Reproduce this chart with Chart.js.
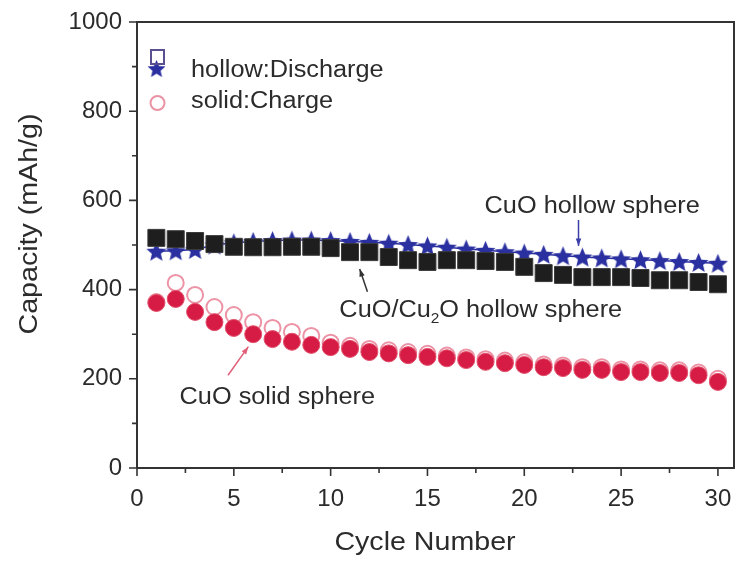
<!DOCTYPE html>
<html lang="en">
<head>
    <meta charset="UTF-8">
    <title>Capacity vs Cycle Number</title>
    <script src="https://cdn.jsdelivr.net/npm/chart.js"></script>
    <style>
        * { margin: 0; padding: 0; box-sizing: border-box; }
        body { background: #fff; width: 736px; height: 561px; overflow: hidden; }
        .wrap { position: relative; width: 736px; height: 561px; }
    </style>
</head>
<body>
    <div class="wrap"><canvas id="capChart"></canvas></div>

    <script>
        // cycle number (x) and capacity values in mAh/g
        const cycles = [1, 2, 3, 4, 5, 6, 7, 8, 9, 10, 11, 12, 13, 14, 15,
                        16, 17, 18, 19, 20, 21, 22, 23, 24, 25, 26, 27, 28, 29, 30];
        const cu2oHollowDischarge = [516, 513, 509, 502, 496, 495, 495, 496, 496, 493, 484, 484, 473, 466, 462,
                                     466, 466, 464, 462, 451, 437, 433, 428, 428, 428, 426, 421, 421, 417, 412];
        const cuoHollowDischarge = [486, 487, 490, 500, 505, 508, 510, 511, 511, 510, 508, 506, 504, 501, 498,
                                    495, 491, 488, 485, 482, 479, 476, 473, 471, 469, 467, 465, 463, 461, 459];
        const cuoSolidDischarge = [370, 379, 350, 327, 314, 300, 289, 283, 276, 271, 267, 260, 257, 253, 249,
                                   246, 242, 238, 235, 231, 226, 224, 220, 220, 215, 215, 213, 213, 208, 193];
        const cuoSolidCharge = [372, 415, 388, 361, 343, 327, 314, 305, 296, 281, 274, 267, 264, 260, 256,
                                252, 248, 244, 241, 237, 232, 230, 226, 226, 221, 221, 219, 219, 214, 200];
        const xTicks = [0, 5, 10, 15, 20, 25, 30];
        const yTicks = [0, 200, 400, 600, 800, 1000];

        const FONT = '"Liberation Sans", Arial, sans-serif';
        const INK = '#2b2b2b';

        function points(ys) {
            return cycles.map((c, i) => ({ x: c, y: ys[i] }));
        }

        // filled five-point star used as point style
        function starImage(size, color) {
            const c = document.createElement('canvas');
            c.width = c.height = size;
            const g = c.getContext('2d');
            const R = size / 2, r = R * 0.45;
            g.beginPath();
            for (let i = 0; i < 10; i++) {
                const a = -Math.PI / 2 + i * Math.PI / 5;
                const rad = i % 2 ? r : R;
                g.lineTo(R + rad * Math.cos(a), R + 1 + rad * Math.sin(a));
            }
            g.closePath();
            g.fillStyle = color;
            g.fill();
            return c;
        }

        const STAR_BLUE = '#2b30a0';
        const star = starImage(21, STAR_BLUE);

        // no extra room for edge labels, the plot box fills the canvas
        function noEdgePadding(s) {
            s.paddingLeft = 0; s.paddingRight = 0;
            s.paddingTop = 0; s.paddingBottom = 0;
        }

        // the scanned figure's lettering is a little wider than Arial
        function wideText(ctx, str, x, y, size) {
            ctx.save();
            ctx.font = size + 'px ' + FONT;
            ctx.translate(x, y);
            ctx.scale(1.1, 1);
            ctx.fillText(str, 0, 0);
            const w = ctx.measureText(str).width * 1.1;
            ctx.restore();
            return w;
        }

        // frame, ticks, axis titles, legend and annotations
        const decor = {
            id: 'decor',
            afterDraw(chart) {
                const { ctx, chartArea: a, scales: { x, y } } = chart;
                ctx.save();
                ctx.strokeStyle = '#333';
                ctx.lineWidth = 2;
                ctx.strokeRect(a.left, a.top, a.right - a.left, a.bottom - a.top);

                ctx.lineWidth = 1.6;
                ctx.beginPath();
                xTicks.forEach(v => {
                    const px = x.getPixelForValue(v);
                    ctx.moveTo(px, a.bottom); ctx.lineTo(px, a.bottom + 8);
                    if (v < 30) {
                        const mx = x.getPixelForValue(v + 2.5);
                        ctx.moveTo(mx, a.bottom); ctx.lineTo(mx, a.bottom + 5);
                    }
                });
                yTicks.forEach(v => {
                    const py = y.getPixelForValue(v);
                    ctx.moveTo(a.left, py); ctx.lineTo(a.left - 8, py);
                    if (v < 1000) {
                        const my = y.getPixelForValue(v + 100);
                        ctx.moveTo(a.left, my); ctx.lineTo(a.left - 5, my);
                    }
                });
                ctx.stroke();

                // axis titles
                ctx.fillStyle = INK;
                ctx.textAlign = 'center';
                ctx.textBaseline = 'middle';
                wideText(ctx, 'Cycle Number', 425, 543, 26);
                ctx.save();
                ctx.translate(30, 224);
                ctx.rotate(-Math.PI / 2);
                wideText(ctx, 'Capacity (mAh/g)', 0, 0, 26);
                ctx.restore();

                // legend
                ctx.drawImage(star, 147, 59, 19, 19);
                ctx.strokeStyle = '#5a5090';
                ctx.lineWidth = 2;
                ctx.strokeRect(151, 50, 13, 14);
                ctx.strokeStyle = '#ea93a4';
                ctx.beginPath();
                ctx.arc(157.5, 103, 7, 0, Math.PI * 2);
                ctx.stroke();
                ctx.fillStyle = INK;
                ctx.textAlign = 'left';
                wideText(ctx, 'hollow:Discharge', 191, 71, 23);
                wideText(ctx, 'solid:Charge', 191, 102, 23);

                // annotations
                function arrow(x1, y1, x2, y2, color) {
                    const p1 = [x.getPixelForValue(x1), y.getPixelForValue(y1)];
                    const p2 = [x.getPixelForValue(x2), y.getPixelForValue(y2)];
                    const ang = Math.atan2(p2[1] - p1[1], p2[0] - p1[0]);
                    ctx.strokeStyle = color;
                    ctx.fillStyle = color;
                    ctx.lineWidth = 1.5;
                    ctx.beginPath();
                    ctx.moveTo(p1[0], p1[1]);
                    ctx.lineTo(p2[0], p2[1]);
                    ctx.stroke();
                    ctx.beginPath();
                    ctx.moveTo(p2[0], p2[1]);
                    ctx.lineTo(p2[0] - 8 * Math.cos(ang - 0.35), p2[1] - 8 * Math.sin(ang - 0.35));
                    ctx.lineTo(p2[0] - 8 * Math.cos(ang + 0.35), p2[1] - 8 * Math.sin(ang + 0.35));
                    ctx.closePath();
                    ctx.fill();
                }
                arrow(22.8, 556, 22.8, 498, '#3a3fa8');
                arrow(11.9, 395, 11.5, 446, '#333');
                arrow(4.7, 208, 5.75, 272, '#e0607a');

                ctx.fillStyle = INK;
                ctx.textAlign = 'left';
                wideText(ctx, 'CuO hollow sphere', x.getPixelForValue(17.95), y.getPixelForValue(585), 23);
                let tx = x.getPixelForValue(10.45);
                const ty = y.getPixelForValue(352);
                tx += wideText(ctx, 'CuO/Cu', tx, ty, 23);
                tx += wideText(ctx, '2', tx, ty + 8, 14);
                wideText(ctx, 'O hollow sphere', tx, ty, 23);
                wideText(ctx, 'CuO solid sphere', x.getPixelForValue(2.2), y.getPixelForValue(157), 23);
                ctx.restore();
            }
        };

        new Chart(document.getElementById('capChart'), {
            type: 'scatter',
            data: {
                datasets: [
                    {
                        label: 'CuO/Cu2O hollow sphere',
                        data: points(cu2oHollowDischarge),
                        pointStyle: 'rect',
                        pointRadius: 12,
                        backgroundColor: '#1e1e1e',
                        borderColor: '#3a3a3a',
                        borderWidth: 1,
                        order: 1
                    },
                    {
                        label: 'CuO hollow sphere',
                        data: points(cuoHollowDischarge),
                        pointStyle: star,
                        showLine: true,
                        borderColor: STAR_BLUE,
                        borderWidth: 1.5,
                        order: 2
                    },
                    {
                        label: 'CuO solid sphere discharge',
                        data: points(cuoSolidDischarge),
                        pointStyle: 'circle',
                        pointRadius: 8.5,
                        backgroundColor: '#d61c45',
                        borderColor: '#e2506c',
                        borderWidth: 1,
                        order: 3
                    },
                    {
                        label: 'CuO solid sphere charge',
                        data: points(cuoSolidCharge),
                        pointStyle: 'circle',
                        pointRadius: 8,
                        backgroundColor: '#ffffff',
                        borderColor: '#ec93a5',
                        borderWidth: 2,
                        order: 4
                    }
                ]
            },
            options: {
                responsive: true,
                maintainAspectRatio: false,
                animation: false,
                events: [],
                layout: { autoPadding: false, padding: { top: 22, right: 2, left: 0, bottom: 0 } },
                plugins: {
                    legend: { display: false },
                    tooltip: { enabled: false }
                },
                scales: {
                    x: {
                        type: 'linear',
                        min: 0,
                        max: 30.83,
                        afterBuildTicks: s => { s.ticks = xTicks.map(v => ({ value: v })); },
                        afterFit: s => { s.height = 93; noEdgePadding(s); },
                        grid: { display: false, drawTicks: false },
                        border: { display: false },
                        ticks: {
                            font: { family: FONT, size: 24 },
                            color: INK,
                            padding: 17,
                            maxRotation: 0,
                            callback: v => String(v)
                        }
                    },
                    y: {
                        min: 0,
                        max: 1000,
                        afterBuildTicks: s => { s.ticks = yTicks.map(v => ({ value: v })); },
                        afterFit: s => { s.width = 137; noEdgePadding(s); },
                        grid: { display: false, drawTicks: false },
                        border: { display: false },
                        ticks: {
                            font: { family: FONT, size: 24 },
                            color: INK,
                            padding: 15,
                            callback: v => String(v)
                        }
                    }
                }
            },
            plugins: [decor]
        });
    </script>
</body>
</html>
